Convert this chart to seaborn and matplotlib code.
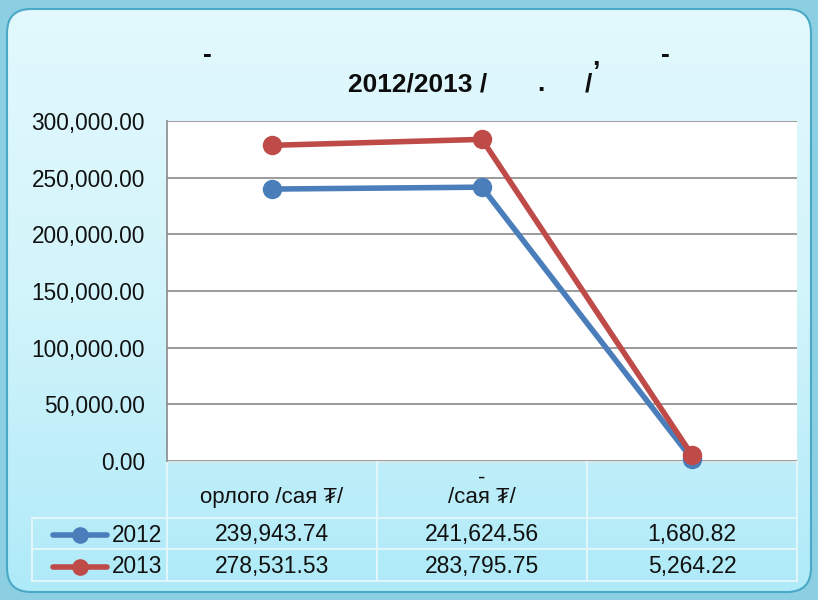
import numpy as np
import pandas as pd
import matplotlib
matplotlib.use("Agg")
import matplotlib.pyplot as plt
from matplotlib.patches import FancyBboxPatch
from matplotlib.colors import LinearSegmentedColormap
import seaborn as sns

# ---- data ----
categories = ["орлого /сая ₮/", "-\n/сая ₮/", ""]
years = ["2012", "2013"]
values_2012 = [239943.74, 241624.56, 1680.82]
values_2013 = [278531.53, 283795.75, 5264.22]
yticks = [0, 50000, 100000, 150000, 200000, 250000, 300000]
title_line1 = ["-", ",", "-"]
title_line2 = ["2012/2013 /", ".", "/"]
colors = {"2012": "#4A7EBB", "2013": "#BE4B48"}

sns.set_theme(style="white")
FONT = ["Liberation Sans", "DejaVu Sans"]
plt.rcParams["font.family"] = FONT

W, H = 818, 600
fig = plt.figure(figsize=(W / 100, H / 100), dpi=100)
fig.patch.set_facecolor("#8ccfe2")

# background axes in pixel coordinates
bg = fig.add_axes([0, 0, 1, 1])
bg.set_xlim(0, W)
bg.set_ylim(H, 0)
bg.axis("off")
frame = FancyBboxPatch((7, 9), W - 14, H - 17, boxstyle="round,pad=0,rounding_size=24",
                       facecolor="none", edgecolor="#4aa9c6", linewidth=1.5, zorder=3)
bg.add_patch(frame)
cmap = LinearSegmentedColormap.from_list("bgc", ["#e3f9fd", "#d2f4fb", "#aeeaf8"])
grad = np.linspace(0, 1, 256).reshape(-1, 1)
im = bg.imshow(grad, cmap=cmap, extent=(0, W, H, 0), aspect="auto", zorder=1)
im.set_clip_path(frame)

# title pieces
tkw = dict(fontsize=19, fontweight="bold", color="#0d0d0d", zorder=5)
bg.text(207, 55, title_line1[0], ha="center", va="center", **tkw)
bg.text(596, 58, title_line1[1], ha="center", va="center", **tkw)
bg.text(665, 55, title_line1[2], ha="center", va="center", **tkw)
bg.text(348, 84, title_line2[0], ha="left", va="center", **tkw)
bg.text(541, 84, title_line2[1], ha="center", va="center", **tkw)
bg.text(588, 84, title_line2[2], ha="center", va="center", **tkw)

# ---- main plot ----
L, R, T, B = 167, 797, 121, 461
ax = fig.add_axes([L / W, 1 - B / H, (R - L) / W, (B - T) / H])
ax.set_facecolor("white")
ax.set_zorder(4)

df = pd.DataFrame({
    "x": list(range(len(categories))) * 2,
    "value": values_2012 + values_2013,
    "year": [years[0]] * len(categories) + [years[1]] * len(categories),
})
sns.lineplot(data=df, x="x", y="value", hue="year", palette=colors, marker="o",
             markersize=14, markeredgewidth=0, linewidth=4, legend=False, ax=ax)
for ln in ax.lines:
    ln.set_clip_on(False)
    ln.set_solid_capstyle("round")

ax.set_xlim(-0.5, len(categories) - 0.5)
ax.set_ylim(0, 300000)
ax.set_yticks(yticks)
ax.set_yticklabels([f"{v:,.2f}" for v in yticks], fontsize=16.3, color="#111111")
ax.set_xticks([])
ax.set_xlabel("")
ax.set_ylabel("")
ax.yaxis.grid(True, color="#8a8a8a", linewidth=1.2)
ax.set_axisbelow(True)
ax.tick_params(axis="y", length=0, pad=16)
for s in ["top", "right", "bottom"]:
    ax.spines[s].set_visible(False)
ax.spines["left"].set_color("#8a8a8a")
ax.spines["left"].set_linewidth(1.2)

# ---- data table ----
col_edges = [L, 377, 587, R]
row_edges = [B, 518, 549, 581]
lc = "#e6f8fc"
bg.plot([L, R], [B, B], color="#d8e6ee", lw=2, zorder=3)
for y in row_edges[1:]:
    bg.plot([32, R], [y, y], color=lc, lw=1.3, zorder=3)
for x in col_edges:
    bg.plot([x, x], [B, row_edges[-1]], color=lc, lw=1.3, zorder=3)
bg.plot([32, 32], [row_edges[1], row_edges[-1]], color=lc, lw=1.3, zorder=3)

centers = [(col_edges[i] + col_edges[i + 1]) / 2 for i in range(3)]
for cx, lab in zip(centers, categories):
    bg.text(cx, 508, lab, ha="center", va="bottom", fontsize=16, linespacing=0.9,
            color="#111111", zorder=5, family=FONT)

for r, (yr, vals) in enumerate([(years[0], values_2012), (years[1], values_2013)]):
    cy = (row_edges[r + 1] + row_edges[r + 2]) / 2 + 1.5
    bg.plot([53, 107], [cy, cy], color=colors[yr], lw=4, solid_capstyle="round", zorder=5)
    bg.plot([80], [cy], marker="o", markersize=12, color=colors[yr], markeredgewidth=0, zorder=6)
    bg.text(162, cy, yr, ha="right", va="center", fontsize=16.3, color="#111111", zorder=5)
    for cx, v in zip(centers, vals):
        bg.text(cx, cy, f"{v:,.2f}", ha="center", va="center", fontsize=16.5,
                color="#111111", zorder=5)

fig.savefig("out.png", dpi=100, facecolor=fig.get_facecolor())
